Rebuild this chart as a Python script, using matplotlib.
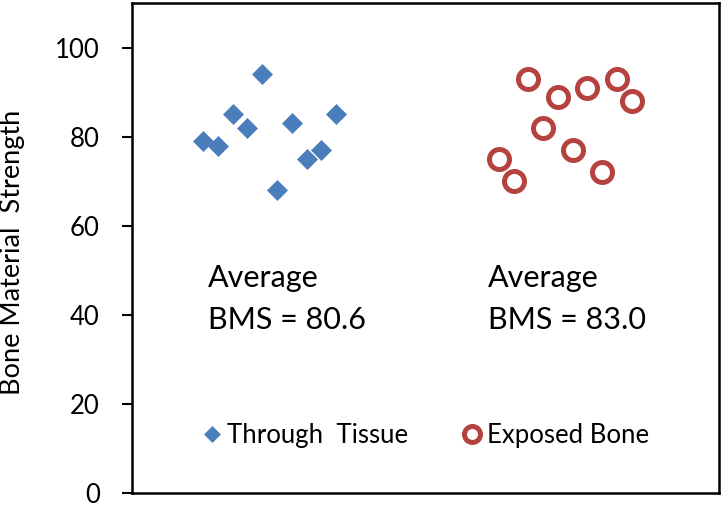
import numpy as np
import matplotlib
matplotlib.use("Agg")
import matplotlib.pyplot as plt

plt.rcParams['font.family'] = ['Lato', 'DejaVu Sans']

# data
tissue_x = [1, 2, 3, 4, 5, 6, 7, 8, 9, 10]
tissue_y = [79, 78, 85, 82, 94, 68, 83, 75, 77, 85]
bone_x = [21, 22, 23, 24, 25, 26, 27, 28, 29, 30]
bone_y = [75, 70, 93, 82, 89, 77, 91, 72, 93, 88]
yticks = [0, 20, 40, 60, 80, 100]

blue = '#4A7EBB'
red = '#B5423F'

fig = plt.figure(figsize=(7.24, 5.08), dpi=100)
ax = fig.add_axes([0.182, 0.03, 0.811, 0.964])

ax.plot(tissue_x, tissue_y, 'D', ms=10.5, color=blue, mec=blue, mew=0.5,
        label='Through  Tissue')
ax.plot(bone_x, bone_y, 'o', ms=14.4, mfc='white', mec=red, mew=3.6,
        label='Exposed Bone')

ax.set_xlim(-3.83, 35.9)
ax.set_ylim(0, 110)
ax.set_xticks([])
ax.set_yticks(yticks)
ax.tick_params(axis='y', direction='out', length=7, width=1.5,
               labelsize=18.5, pad=16)
for s in ax.spines.values():
    s.set_linewidth(1.8)

ax.set_ylabel('Bone Material  Strength', fontsize=19.5)
ax.yaxis.set_label_coords(-0.182, 0.49)

ax.text(1.3, 43.5, 'Average\nBMS = %.1f' % np.mean(tissue_y), fontsize=22,
        linespacing=1.6, va='center')
ax.text(20.3, 43.5, 'Average\nBMS = %.1f' % np.mean(bone_y), fontsize=22,
        linespacing=1.6, va='center')

ax.legend(loc='center left', bbox_to_anchor=(0.075, 0.116), ncol=2,
          frameon=False, fontsize=18.5, markerscale=0.8, handlelength=1.0,
          handletextpad=0.08, columnspacing=2.0)

fig.savefig('out.png', dpi=100)
